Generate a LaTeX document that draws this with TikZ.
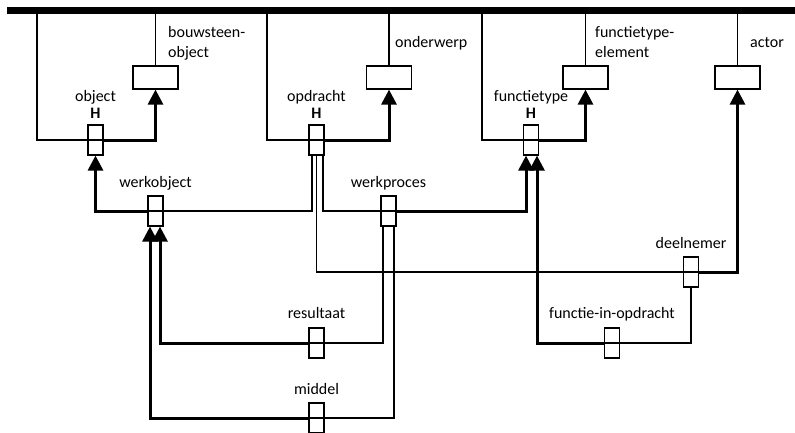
\documentclass[tikz,border=0pt]{standalone}
\usepackage{fontspec}
\setmainfont{Carlito}
\usetikzlibrary{arrows.meta}
\begin{document}
\begin{tikzpicture}[x=1pt,y=-1pt,
  thinln/.style={line width=1.2pt},
  thickln/.style={line width=3pt},
  arr/.style={thickln,-{Triangle[length=15pt,width=15pt]}},
  sbox/.style={draw,line width=1.2pt,minimum width=15pt,minimum height=30pt,inner sep=0pt},
  wbox/.style={draw,line width=1.2pt,minimum width=45pt,minimum height=23pt,inner sep=0pt},
  lbl/.style={font=\fontsize{16pt}{19.5pt}\selectfont,inner sep=0pt},
  hl/.style={font=\fontsize{16pt}{19.5pt}\selectfont\bfseries,inner sep=0pt,anchor=base}]
\useasboundingbox (0,0) rectangle (795,432);
\clip (0,0) rectangle (795,432);
% top bar
\node[fill=black,inner sep=0pt,minimum width=788pt,minimum height=7pt,anchor=west] (bar) at (7,10.5) {};
\coordinate (t1) at (37,10.5);
\coordinate (t2) at (267,10.5);
\coordinate (t3) at (482,10.5);
% boxes
\node[sbox] (obj) at (95.5,140) {};
\node[wbox] (bouw) at (155.5,77.5) {};
\node[sbox] (opd) at (316.5,140) {};
\node[wbox] (ond) at (389,77.5) {};
\node[sbox] (ft) at (531,140) {};
\node[wbox] (fte) at (585.5,77.5) {};
\node[wbox] (act) at (737.5,77.5) {};
\node[sbox] (wo) at (155.5,211) {};
\node[sbox] (wp) at (388.5,211) {};
\node[sbox] (res) at (316.5,343) {};
\node[sbox] (mid) at (316.5,418) {};
\node[sbox] (dn) at (691,272) {};
\node[sbox] (fio) at (612,343) {};
% lines through small boxes
\foreach \n in {obj,opd,ft,wo,wp,res,mid,dn,fio} \draw[thinln] (\n.west) -- (\n.east);
% connectors from bar
\draw[thinln] (t1) |- (obj.west);
\draw[thinln] (t2) |- (opd.west);
\draw[thinln] (t3) |- (ft.west);
\draw[thinln] (bar.center -| bouw.north) -- (bouw.north);
\draw[thinln] (bar.center -| ond.north) -- (ond.north);
\draw[thinln] (bar.center -| fte.north) -- (fte.north);
\draw[thinln] (bar.center -| act.north) -- (act.north);
% arrows to wide boxes
\draw[arr] (obj.east) -| (bouw.south);
\draw[arr] (opd.east) -| (ond.south);
\draw[arr] (ft.east) -| (fte.south);
% other connectors
\draw[arr] (wo.west) -| (obj.south);
\draw[thinln] (wo.east) -| ([xshift=-4.5pt]opd.south);
\draw[thinln] ([xshift=6.5pt]opd.south) |- (wp.west);
\draw[arr] (wp.east) -| ([xshift=-5pt]ft.south);
\draw[thinln] (opd.south) |- (dn.west);
\draw[arr] (dn.east) -| (act.south);
\draw[thinln] (dn.south) |- (fio.east);
\draw[arr] (fio.west) -| ([xshift=6pt]ft.south);
\draw[thinln] ([xshift=-5.5pt]wp.south) |- (res.east);
\draw[arr] (res.west) -| ([xshift=4.5pt]wo.south);
\draw[thinln] ([xshift=5.5pt]wp.south) |- (mid.east);
\draw[arr] (mid.west) -| ([xshift=-5.5pt]wo.south);
% labels
\node[lbl,anchor=base west,align=left] (lbouw) at (168,57) {bouwsteen-\\object};
\node[lbl,anchor=base west] (lond) at (395,47.5) {onderwerp};
\node[lbl,anchor=base west,align=left] (lfte) at (595,57) {functietype-\\element};
\node[lbl,anchor=base west] (lact) at (750,47.5) {actor};
\node[lbl,anchor=base] (lobj) at (95.5,101) {object};
\node[hl] (hobj) at (95.5,118) {H};
\node[lbl,anchor=base] (lopd) at (316.5,101) {opdracht};
\node[hl] (hopd) at (316.5,118) {H};
\node[lbl,anchor=base] (lft) at (531,101) {functietype};
\node[hl] (hft) at (531,118) {H};
\node[lbl,anchor=base] (lwo) at (155.5,187) {werkobject};
\node[lbl,anchor=base] (lwp) at (388.5,187) {werkproces};
\node[lbl,anchor=base] (lres) at (316.5,318) {resultaat};
\node[lbl,anchor=base] (lmid) at (316.5,394) {middel};
\node[lbl,anchor=base] (ldn) at (691,248) {deelnemer};
\node[lbl,anchor=base] (lfio) at (612,318) {functie-in-opdracht};
\end{tikzpicture}
\end{document}
